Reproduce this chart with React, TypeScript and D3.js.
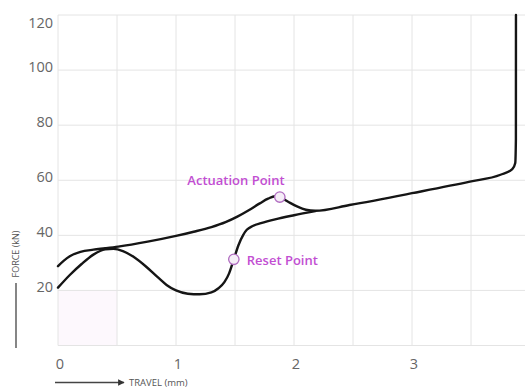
import React from "react";
import * as d3 from "d3";

const pressTravel = [0, 0.05, 0.1, 0.19, 0.3, 0.4, 0.51, 0.76, 1.0, 1.15, 1.3, 1.42, 1.52, 1.62, 1.71, 1.78, 1.84, 1.88, 1.95, 2.03, 2.1, 2.18, 2.47, 3.0, 3.49, 3.75, 3.85, 3.875, 3.8805, 3.881];
const pressForce = [28.8, 30.8, 32.4, 34, 34.8, 35.3, 35.9, 37.7, 39.8, 41.3, 43.0, 44.8, 46.8, 49.2, 51.6, 53.3, 54.2, 53.9, 52.2, 50.4, 49.3, 48.9, 51, 55.3, 59.5, 62, 64, 66.3, 75, 120];

const releaseTravel = [0, 0.1, 0.2, 0.3, 0.4, 0.47, 0.55, 0.64, 0.75, 0.84, 0.92, 1.0, 1.1, 1.2, 1.3, 1.36, 1.41, 1.45, 1.49, 1.53, 1.57, 1.6, 1.65, 1.72, 1.84, 2.0, 2.18];
const releaseForce = [21, 25.6, 29.6, 33, 34.9, 35.1, 34.3, 32.2, 28.5, 25, 22, 20, 18.8, 18.6, 19.3, 20.8, 23, 26.2, 31.3, 36.5, 40.2, 42, 43.4, 44.4, 45.8, 47.3, 48.8];

const xTicks = [0, 1, 2, 3];
const xGrid = [0, 0.5, 1, 1.5, 2, 2.5, 3, 3.5, 4];
const yTicks = [20, 40, 60, 80, 100, 120];
const yGrid = [0, 20, 40, 60, 80, 100, 120];

const markerNames = ["Actuation Point", "Reset Point"];
const markerTravel = [1.88, 1.49];
const markerForce = [53.9, 31.3];

const W = 525;
const H = 388;

export default function App() {
  const x = d3.scaleLinear().domain([0, 4]).range([58, 530]);
  const y = d3.scaleLinear().domain([0, 120]).range([345.5, 15]);

  const line = d3
    .line<[number, number]>()
    .x((d) => x(d[0]))
    .y((d) => y(d[1]))
    .curve(d3.curveMonotoneX);

  const press = pressTravel.map((t, i) => [t, pressForce[i]] as [number, number]);
  const release = releaseTravel.map((t, i) => [t, releaseForce[i]] as [number, number]);

  const font = "'Open Sans', sans-serif";
  const magenta = "#c24ed2";

  return (
    <svg
      width={W}
      height={H}
      style={{ position: "absolute", left: 0, top: 0, background: "#fff" }}
      fontFamily={font}
    >
      <defs>
        <marker id="arr" viewBox="0 0 10 10" refX="9" refY="5" markerWidth="5" markerHeight="5" orient="auto">
          <path d="M0,0 L10,5 L0,10 z" fill="#333" />
        </marker>
      </defs>
      <rect x={x(0)} y={y(20)} width={x(0.5) - x(0)} height={y(0) - y(20)} fill="#fdf8fd" />
      {xGrid.map((v) => (
        <line key={"gx" + v} x1={x(v)} x2={x(v)} y1={y(120)} y2={y(0)} stroke="#e4e4e4" strokeWidth={1} />
      ))}
      {yGrid.map((v) => (
        <line key={"gy" + v} x1={x(0)} x2={W} y1={y(v)} y2={y(v)} stroke="#e4e4e4" strokeWidth={1} />
      ))}
      {yTicks.map((v) => (
        <text
          key={"ty" + v}
          x={53}
          y={Math.max(y(v) - 4, 22)}
          textAnchor="end"
          dominantBaseline="central"
          fontSize={14.5}
          fill="#666"
        >
          {v}
        </text>
      ))}
      {xTicks.map((v) => (
        <text
          key={"tx" + v}
          x={x(v) + 2}
          y={363}
          textAnchor="middle"
          dominantBaseline="central"
          fontSize={14.5}
          fill="#666"
        >
          {v}
        </text>
      ))}
      <line x1={16} x2={16} y1={283} y2={348} stroke="#444" strokeWidth={1.3} />
      <text transform={`translate(19,254) rotate(-90)`} textAnchor="middle" fontSize={9} fill="#555">
        FORCE (kN)
      </text>
      <line x1={55} x2={124} y1={382.5} y2={382.5} stroke="#444" strokeWidth={1.3} markerEnd="url(#arr)" />
      <text x={129} y={386} fontSize={9.5} fill="#555">
        TRAVEL (mm)
      </text>
      <path d={line(release) || ""} fill="none" stroke="#151515" strokeWidth={2.4} strokeLinejoin="round" strokeLinecap="round" />
      <path d={line(press) || ""} fill="none" stroke="#151515" strokeWidth={2.4} strokeLinejoin="round" strokeLinecap="round" />
      {markerNames.map((n, i) => (
        <circle
          key={"c" + n}
          cx={x(markerTravel[i])}
          cy={y(markerForce[i])}
          r={5.2}
          fill="#f5eef7"
          stroke="#b06cc0"
          strokeWidth={1.3}
        />
      ))}
      <text x={236} y={180} textAnchor="middle" dominantBaseline="central" fontSize={13} fontWeight={600} fill={magenta}>
        {markerNames[0]}
      </text>
      <text x={x(markerTravel[1]) + 13} y={260} dominantBaseline="central" fontSize={13} fontWeight={600} fill={magenta}>
        {markerNames[1]}
      </text>
    </svg>
  );
}
